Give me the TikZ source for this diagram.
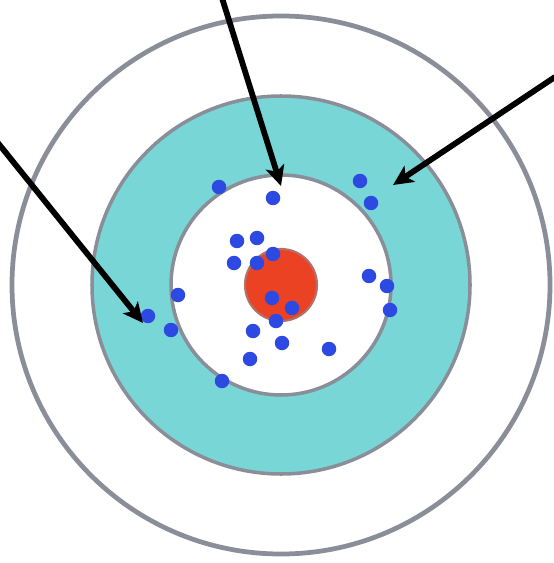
\documentclass[tikz,border=0pt]{standalone}
\usetikzlibrary{arrows.meta}
\definecolor{ringgray}{RGB}{138,142,152}
\definecolor{ringteal}{RGB}{120,214,214}
\definecolor{bullred}{RGB}{236,66,36}
\definecolor{hitblue}{RGB}{44,74,226}
\begin{document}
\begin{tikzpicture}[x=0.02cm,y=-0.02cm,>={Stealth[length=4mm,width=3.8mm,inset=1mm]},
  ring/.style={draw=ringgray,line width=2pt},
  hit/.style={circle,fill=hitblue,inner sep=0pt,minimum size=0.29cm},
  pointer/.style={->,line width=3.3pt,black}]
  \useasboundingbox (0,0) rectangle (553,563);
  \coordinate (c) at (281,285);
  % target rings
  \draw[ring,line width=2.7pt,fill=white] (c) circle (269);
  \draw[ring,fill=ringteal] (c) circle (189);
  \draw[ring,fill=white] (c) circle (110);
  \draw[draw=ringgray!60!bullred,line width=1.2pt,fill=bullred] (c) circle (36);
  % hits
  \foreach \x/\y [count=\i] in {219/187,273/198,360/181,371/203,237/241,257/238,
    234/263,257/263,273/254,369/276,387/286,390/310,178/295,148/316,171/330,
    272/298,292/308,276/321,253/331,282/343,329/349,250/359,222/381}
    \node[hit] (h\i) at (\x,\y) {};
  % pointers
  \coordinate (ta) at (222,-2);
  \coordinate (tb) at (281,186);
  \coordinate (la) at (-2,143);
  \coordinate (lb) at (143,323);
  \coordinate (ra) at (555,77);
  \coordinate (rb) at (393,185);
  \draw[pointer] (ta) -- (tb);
  \draw[pointer] (la) -- (lb);
  \draw[pointer] (ra) -- (rb);
\end{tikzpicture}
\end{document}
